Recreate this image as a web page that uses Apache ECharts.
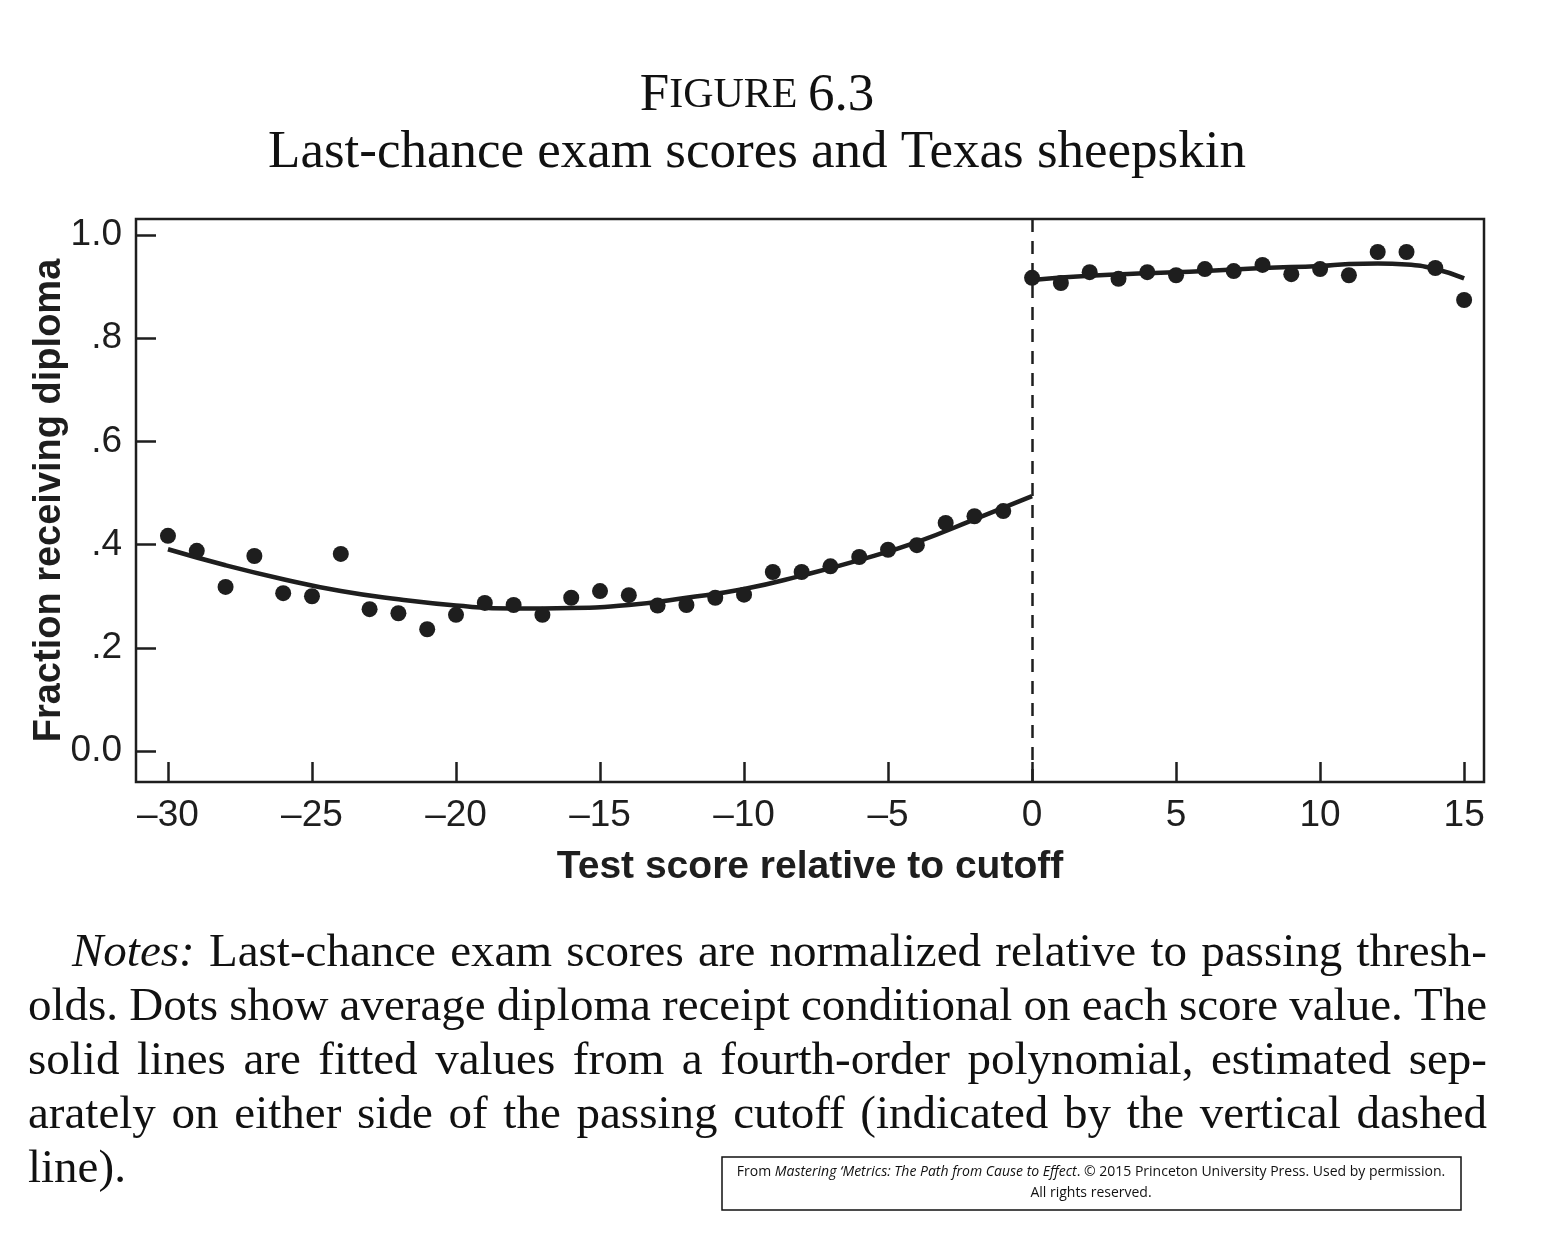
<!DOCTYPE html>
<html>
<head>
<meta charset="utf-8">
<script src="https://cdn.jsdelivr.net/npm/echarts@6/dist/echarts.min.js"></script>
<style>
  html, body { margin: 0; padding: 0; background: #fff; }
  #main { width: 1541px; height: 1248px; }
</style>
</head>
<body>
<div id="main"></div>
<script>
// dots: average diploma receipt at each score
var scoresLeft = [-30, -29, -28, -27, -26, -25, -24, -23, -22, -21, -20, -19, -18, -17, -16,
                  -15, -14, -13, -12, -11, -10, -9, -8, -7, -6, -5, -4, -3, -2, -1];
var diplomaLeft = [0.417, 0.388, 0.318, 0.378, 0.306, 0.300, 0.382, 0.275, 0.267, 0.236, 0.264, 0.287, 0.283, 0.264, 0.297,
                   0.310, 0.302, 0.282, 0.283, 0.297, 0.303, 0.347, 0.347, 0.358, 0.376, 0.390, 0.399, 0.442, 0.455, 0.465];
var scoresRight = [0, 1, 2, 3, 4, 5, 6, 7, 8, 9, 10, 11, 12, 13, 14, 15];
var diplomaRight = [0.917, 0.907, 0.928, 0.915, 0.928, 0.922, 0.934, 0.930, 0.942, 0.924, 0.934, 0.922, 0.967, 0.967, 0.936, 0.874];

// fitted curves
var fitLeftX = [-30, -28, -26, -24, -22, -20, -18, -16, -14, -12, -10, -8, -6, -4, -2, 0];
var fitLeftY = [0.391, 0.360, 0.333, 0.310, 0.294, 0.282, 0.276, 0.277, 0.283, 0.297, 0.314, 0.340, 0.370, 0.405, 0.449, 0.494];
var fitRightX = [0, 2, 4, 6, 8, 10, 11, 12, 13, 14, 15];
var fitRightY = [0.913, 0.921, 0.926, 0.930, 0.936, 0.940, 0.944, 0.945, 0.943, 0.934, 0.916];

var xTicks = [-30, -25, -20, -15, -10, -5, 0, 5, 10, 15];
var yTicks = [0, 0.2, 0.4, 0.6, 0.8, 1.0];
var yTickLabels = ['0.0', '.2', '.4', '.6', '.8', '1.0'];

var noteLines = [
  'Notes: Last-chance exam scores are normalized relative to passing thresh-',
  'olds. Dots show average diploma receipt conditional on each score value. The',
  'solid lines are fitted values from a fourth-order polynomial, estimated sep-',
  'arately on either side of the passing cutoff (indicated by the vertical dashed',
  'line).'
];

function pairs(xs, ys) {
  return xs.map(function (x, i) { return [x, ys[i]]; });
}

var ink = '#1e1e1e';
var sans = '"Liberation Sans", Arial, sans-serif';
var serif = '"Liberation Serif", "Times New Roman", serif';

// justified notes paragraph, word by word
var ctx = document.createElement('canvas').getContext('2d');
var noteSize = 47;
var fontReg = noteSize + 'px ' + serif;
var fontIt = 'italic ' + noteSize + 'px ' + serif;
function measure(t, f) { ctx.font = f; return ctx.measureText(t).width; }
var noteEls = [];
var lineYs = [954, 1008, 1062, 1116, 1170];
noteLines.forEach(function (line, li) {
  var words = line.split(' ');
  var left = li === 0 ? 72 : 28;
  var right = 1487;
  var fonts = words.map(function (w, wi) { return (li === 0 && wi === 0) ? fontIt : fontReg; });
  var widths = words.map(function (w, wi) { return measure(w, fonts[wi]); });
  var total = widths.reduce(function (a, b) { return a + b; }, 0);
  var gap = (li === noteLines.length - 1 || words.length < 2) ? measure(' ', fontReg)
            : (right - left - total) / (words.length - 1);
  var x = left;
  words.forEach(function (w, wi) {
    noteEls.push({
      type: 'text', x: x, y: lineYs[li],
      style: { text: w, font: fonts[wi], fill: '#111', align: 'left', verticalAlign: 'middle' }
    });
    x += widths[wi] + gap;
  });
});

var chart = echarts.init(document.getElementById('main'));
chart.setOption({
  backgroundColor: '#fff',
  animation: false,
  grid: {
    left: 136, top: 219, width: 1348, height: 563,
    show: true, borderColor: ink, borderWidth: 2.5, backgroundColor: 'transparent'
  },
  xAxis: {
    type: 'value', min: -31.11, max: 15.69,
    name: 'Test score relative to cutoff',
    nameLocation: 'middle', nameGap: 66,
    nameTextStyle: { fontFamily: sans, fontSize: 39, fontWeight: 'bold', color: ink },
    axisLine: { show: false, onZero: false },
    splitLine: { show: false },
    axisTick: { inside: true, length: 20, customValues: xTicks, lineStyle: { color: ink, width: 2.5 } },
    axisLabel: {
      customValues: xTicks, margin: 15,
      fontFamily: sans, fontSize: 37, color: ink,
      formatter: function (v) { return v < 0 ? '\u2013' + (-v) : String(v); }
    }
  },
  yAxis: {
    type: 'value', min: -0.06, max: 1.031,
    name: 'Fraction receiving diploma',
    nameLocation: 'middle', nameGap: 67, nameMoveOverlap: false,
    nameTextStyle: { fontFamily: sans, fontSize: 38, fontWeight: 'bold', color: ink },
    axisLine: { show: false, onZero: false },
    splitLine: { show: false },
    axisTick: { inside: true, length: 20, customValues: yTicks, lineStyle: { color: ink, width: 2.5 } },
    axisLabel: {
      customValues: yTicks, margin: 14,
      fontFamily: sans, fontSize: 37, color: ink,
      formatter: function (v) {
        var i = yTicks.findIndex(function (t) { return Math.abs(t - v) < 1e-6; });
        return i >= 0 ? yTickLabels[i] : '';
      }
    }
  },
  series: [{
    type: 'line', data: pairs(fitLeftX, fitLeftY), smooth: true, symbol: 'none',
    lineStyle: { color: ink, width: 4.5 }, z: 2,
    markLine: {
      silent: true, symbol: 'none', label: { show: false },
      lineStyle: { color: ink, width: 2.5, type: [13, 9] },
      data: [{ xAxis: 0 }]
    }
  }, {
    type: 'line', data: pairs(fitRightX, fitRightY), smooth: true, symbol: 'none',
    lineStyle: { color: ink, width: 4.5 }, z: 2
  }, {
    type: 'scatter', data: pairs(scoresLeft, diplomaLeft), symbolSize: 16,
    itemStyle: { color: ink, opacity: 1 }, z: 3
  }, {
    type: 'scatter', data: pairs(scoresRight, diplomaRight), symbolSize: 16,
    itemStyle: { color: ink, opacity: 1 }, z: 3
  }],
  graphic: noteEls.concat([{
    type: 'text', x: 757, y: 96,
    style: {
      text: '{f|F}{s|IGURE }{f|6.3}',
      align: 'center', verticalAlign: 'middle',
      rich: {
        f: { fontFamily: serif, fontSize: 53, fill: '#111' },
        s: { fontFamily: serif, fontSize: 42, fill: '#111' }
      }
    }
  }, {
    type: 'text', x: 757, y: 153,
    style: {
      text: 'Last-chance exam scores and Texas sheepskin',
      align: 'center', verticalAlign: 'middle',
      font: '53px ' + serif, fill: '#111'
    }
  }, {
    type: 'rect', shape: { x: 722, y: 1157, width: 739, height: 53 },
    style: { fill: 'none', stroke: '#111', lineWidth: 1.5 }
  }, {
    type: 'text', x: 1091, y: 1172,
    style: {
      text: '{n|From }{i|Mastering \u2018Metrics: The Path from Cause to Effect}{n|. \u00a9 2015 Princeton University Press. Used by permission.}',
      align: 'center', verticalAlign: 'middle',
      rich: {
        n: { fontFamily: '"Open Sans", sans-serif', fontSize: 14, fill: '#111' },
        i: { fontFamily: '"Open Sans", sans-serif', fontSize: 14, fontStyle: 'italic', fill: '#111' }
      }
    }
  }, {
    type: 'text', x: 1091, y: 1193,
    style: {
      text: 'All rights reserved.', align: 'center', verticalAlign: 'middle',
      font: '14px "Open Sans", sans-serif', fill: '#111'
    }
  }])
});
</script>
</body>
</html>
